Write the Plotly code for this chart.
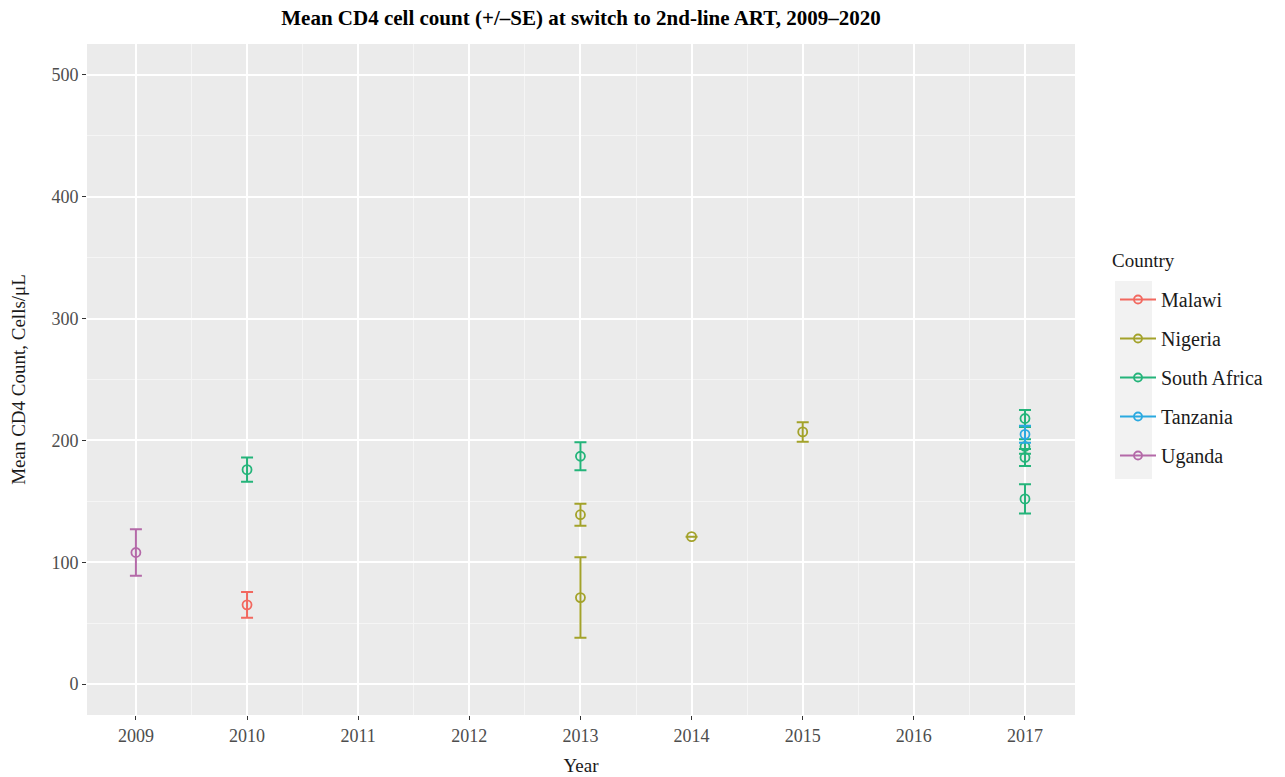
import plotly.graph_objects as go

countries = ["Malawi", "Nigeria", "South Africa", "Tanzania", "Uganda"]
colors = ["#F2685F", "#A3A22A", "#24B47A", "#2AA9E0", "#B469A8"]

row_country = ["Uganda", "Malawi", "South Africa", "South Africa", "Nigeria", "Nigeria",
               "Nigeria", "Nigeria", "South Africa", "South Africa", "South Africa",
               "South Africa", "Tanzania"]
row_year = [2009, 2010, 2010, 2013, 2013, 2013, 2014, 2015, 2017, 2017, 2017, 2017, 2017]
row_mean = [108, 65, 176, 187, 139, 71, 121, 207, 218, 195, 186, 152, 205]
row_se = [19, 10.5, 10, 11.5, 9, 33, None, 8, 7, 6, 7, 12, 7]

x_ticks = [2009, 2010, 2011, 2012, 2013, 2014, 2015, 2016, 2017]
y_ticks = [0, 100, 200, 300, 400, 500]

fig = go.Figure()
font_family = "Liberation Serif, DejaVu Serif, serif"

for c, col in zip(countries, colors):
    idx = [i for i, rc in enumerate(row_country) if rc == c]
    fig.add_trace(go.Scatter(
        x=[row_year[i] for i in idx],
        y=[row_mean[i] for i in idx],
        mode="markers",
        marker=dict(symbol="circle-open", size=9, color=col, line=dict(width=1.8, color=col)),
        error_y=dict(type="data", array=[row_se[i] for i in idx], color=col,
                     thickness=2, width=6, visible=True),
        showlegend=False,
        legendgroup=c,
        name=c,
    ))
    fig.add_trace(go.Scatter(
        x=[None], y=[None], mode="lines+markers", name=c,
        legendgroup=c,
        line=dict(color=col, width=2),
        marker=dict(symbol="circle-open", size=8, color=col, line=dict(width=1.8, color=col)),
    ))

# legend key background like ggplot
fig.add_shape(type="rect", xref="paper", yref="paper",
              x0=(1115 - 87) / 988, x1=(1152 - 87) / 988,
              y0=(715 - 479) / 671, y1=(715 - 281) / 671,
              fillcolor="#F2F2F2", line=dict(width=0), layer="below")

fig.add_annotation(text="Country", xref="paper", yref="paper",
                   x=(1110 - 87) / 988, xanchor="left", y=(715 - 260) / 671, yanchor="middle",
                   showarrow=False, font=dict(size=19, color="#1A1A1A", family=font_family))

fig.update_layout(
    width=1285, height=777,
    margin=dict(l=87, r=210, t=44, b=62),
    paper_bgcolor="white",
    plot_bgcolor="#EBEBEB",
    font=dict(family=font_family, color="#1A1A1A"),
    title=dict(text="<b>Mean CD4 cell count (+/\u2013SE) at switch to 2nd-line ART, 2009\u20132020</b>",
               x=0.5, xref="paper", xanchor="center", y=1 - 18 / 777, yanchor="middle",
               font=dict(size=21, family=font_family, color="#000000")),
    legend=dict(x=(1115 - 87) / 988, xanchor="left", y=(715 - 280) / 671, yanchor="top",
                font=dict(size=20, color="#1A1A1A"), bgcolor="rgba(0,0,0,0)",
                tracegroupgap=10, itemwidth=36),
    xaxis=dict(range=[2008.56, 2017.45], tickvals=x_ticks, ticktext=[str(t) for t in x_ticks],
               automargin=False,
               showgrid=True, gridcolor="white", gridwidth=2,
               minor=dict(tickvals=[2009.5 + i for i in range(8)], showgrid=True,
                          gridcolor="#F5F5F5", gridwidth=1),
               zeroline=False, ticks="outside", ticklen=4, tickcolor="#333333", tickwidth=1,
               tickfont=dict(size=18, color="#4D4D4D"),
               title=dict(text="Year", font=dict(size=19, color="#1A1A1A"), standoff=14)),
    yaxis=dict(range=[-25.4, 525.4], tickvals=y_ticks,
               automargin=False,
               showgrid=True, gridcolor="white", gridwidth=2,
               minor=dict(tickvals=[50, 150, 250, 350, 450], showgrid=True,
                          gridcolor="#F5F5F5", gridwidth=1),
               zeroline=False, ticks="outside", ticklen=4, tickcolor="#333333", tickwidth=1,
               tickfont=dict(size=18, color="#4D4D4D"),
               title=dict(text="Mean CD4 Count, Cells/\u03bcL", font=dict(size=19, color="#1A1A1A"),
                          standoff=20)),
)

fig.write_html("out.html", config={"displayModeBar": False},
               post_script="document.body.style.margin='0';")
